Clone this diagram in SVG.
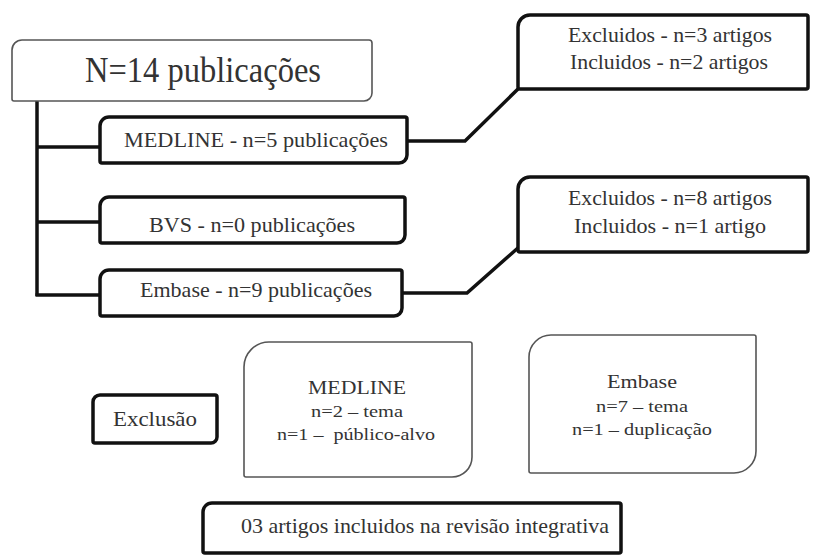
<svg xmlns="http://www.w3.org/2000/svg" width="813" height="556" viewBox="0 0 813 556">
<style>
.thick{fill:#fff;stroke:#111;stroke-width:3.5;stroke-linejoin:round}
.thin{fill:#fff;stroke:#555;stroke-width:1.6}
.conn{fill:none;stroke:#111;stroke-width:3.5;stroke-linejoin:miter;stroke-linecap:butt}
.lbl{fill:#333;text-anchor:middle}
.t20{font-size:21px}
.t18{font-size:19px}
.t16{font-size:17px}
</style>
<rect width="813" height="556" fill="#fff"/>
<g id="connectors">
<path class="conn" d="M37,101 V296"/>
<path class="conn" d="M37,147 H101"/>
<path class="conn" d="M37,222 H101"/>
<path class="conn" d="M35.5,295 H101"/>
<path class="conn" d="M407,141 H465 L519,88"/>
<path class="conn" d="M402,293 H467 L519,247"/>
</g>
<g font-family="Liberation Serif, Times New Roman, serif">
<g id="n14">
<path class="thin" d="M22,40 H369 A3,3 0 0 1 372,43 V93 A8,8 0 0 1 364,101 H14 A2,2 0 0 1 12,99 V50 A10,10 0 0 1 22,40 Z"/>
<text class="lbl" x="203" y="82" font-size="35" textLength="236" lengthAdjust="spacingAndGlyphs">N=14 publicações</text>
</g>
<g id="medline">
<path class="thick" d="M109,117 H405 A2,2 0 0 1 407,119 V155 A8,8 0 0 1 399,163 H102 A2,2 0 0 1 100,161 V126 A9,9 0 0 1 109,117 Z"/>
<text class="lbl t20" x="256" y="147" textLength="264" lengthAdjust="spacingAndGlyphs">MEDLINE - n=5 publicações</text>
</g>
<g id="bvs">
<path class="thick" d="M109,197 H403 A2,2 0 0 1 405,199 V235 A8,8 0 0 1 397,243 H102 A2,2 0 0 1 100,241 V206 A9,9 0 0 1 109,197 Z"/>
<text class="lbl t20" x="252" y="232" textLength="206" lengthAdjust="spacingAndGlyphs">BVS - n=0 publicações</text>
</g>
<g id="embase">
<path class="thick" d="M109,270 H400 A2,2 0 0 1 402,272 V308 A8,8 0 0 1 394,316 H102 A2,2 0 0 1 100,314 V279 A9,9 0 0 1 109,270 Z"/>
<text class="lbl t20" x="256" y="297" textLength="232" lengthAdjust="spacingAndGlyphs">Embase - n=9 publicações</text>
</g>
<g id="res-medline">
<path class="thick" d="M530,15 H806 A2,2 0 0 1 808,17 V87 A2,2 0 0 1 806,89 H520 A2,2 0 0 1 518,87 V27 A12,12 0 0 1 530,15 Z"/>
<text class="lbl t20" x="670" y="42" textLength="204" lengthAdjust="spacingAndGlyphs">Excluidos - n=3 artigos</text>
<text class="lbl t20" x="669" y="69" textLength="198" lengthAdjust="spacingAndGlyphs">Incluidos - n=2 artigos</text>
</g>
<g id="res-embase">
<path class="thick" d="M530,177 H806 A2,2 0 0 1 808,179 V250 A2,2 0 0 1 806,252 H520 A2,2 0 0 1 518,250 V189 A12,12 0 0 1 530,177 Z"/>
<text class="lbl t20" x="670" y="205" textLength="204" lengthAdjust="spacingAndGlyphs">Excluidos - n=8 artigos</text>
<text class="lbl t20" x="670" y="233" textLength="192" lengthAdjust="spacingAndGlyphs">Incluidos - n=1 artigo</text>
</g>
<g id="exclusao">
<path class="thick" d="M100,395 H215 A2,2 0 0 1 217,397 V437 A6,6 0 0 1 211,443 H95 A2,2 0 0 1 93,441 V402 A7,7 0 0 1 100,395 Z"/>
<text class="lbl t20" x="155" y="426" textLength="84" lengthAdjust="spacingAndGlyphs">Exclusão</text>
</g>
<g id="exc-medline">
<path class="thin" d="M269,342 H470 A2,2 0 0 1 472,344 V457 A20,20 0 0 1 452,477 H246 A2,2 0 0 1 244,475 V367 A25,25 0 0 1 269,342 Z"/>
<text class="lbl t18" x="357" y="394" textLength="98" lengthAdjust="spacingAndGlyphs">MEDLINE</text>
<text class="lbl t16" x="357" y="417" textLength="92" lengthAdjust="spacingAndGlyphs">n=2 – tema</text>
<text class="lbl t16" x="356" y="440" xml:space="preserve" textLength="158" lengthAdjust="spacingAndGlyphs">n=1 –  público-alvo</text>
</g>
<g id="exc-embase">
<path class="thin" d="M551,335 H754 A2,2 0 0 1 756,337 V451 A22,22 0 0 1 734,473 H531 A2,2 0 0 1 529,471 V357 A22,22 0 0 1 551,335 Z"/>
<text class="lbl t18" x="642" y="388" textLength="70" lengthAdjust="spacingAndGlyphs">Embase</text>
<text class="lbl t16" x="642" y="412" textLength="92" lengthAdjust="spacingAndGlyphs">n=7 – tema</text>
<text class="lbl t16" x="642" y="435" textLength="140" lengthAdjust="spacingAndGlyphs">n=1 – duplicação</text>
</g>
<g id="final">
<path class="thick" d="M212,503 H619 A2,2 0 0 1 621,505 V551 A2,2 0 0 1 619,553 H205 A2,2 0 0 1 203,551 V512 A9,9 0 0 1 212,503 Z"/>
<text class="lbl t20" x="425" y="533" textLength="368" lengthAdjust="spacingAndGlyphs">03 artigos incluidos na revisão integrativa</text>
</g>
</g>
</svg>
